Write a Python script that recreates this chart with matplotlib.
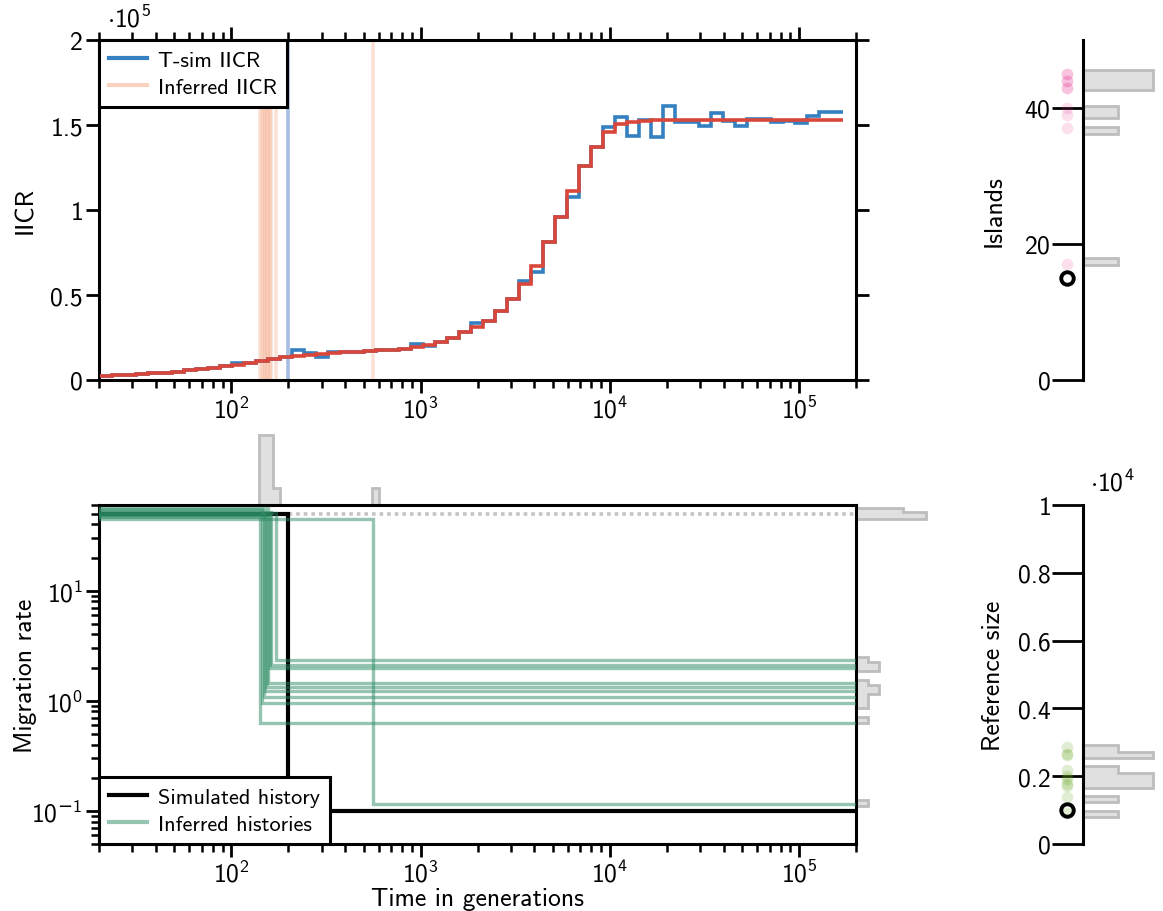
import numpy as np
import matplotlib
matplotlib.use("Agg")
import matplotlib.pyplot as plt
import matplotlib.transforms as mtransforms
from matplotlib.ticker import FuncFormatter, FixedLocator, NullFormatter
from matplotlib.lines import Line2D

plt.rcParams.update({
    "font.family": "cmss10",
    "mathtext.fontset": "custom",
    "mathtext.rm": "cmss10",
    "mathtext.it": "cmss10",
    "mathtext.bf": "cmss10",
    "mathtext.sf": "DejaVu Sans",
    "axes.unicode_minus": False,
    "axes.formatter.use_mathtext": True,
})

# ---------------- data ----------------
time_edges = [20.24, 23.42, 27.09, 31.34, 36.26, 41.95, 48.53, 56.15, 64.96, 75.15,
              86.95, 100.6, 116.4, 134.6, 155.7, 180.2, 208.4, 241.2, 279.0, 322.8,
              373.4, 432.0, 499.8, 578.3, 669.0, 774.0, 895.4, 1036, 1199, 1387,
              1604, 1856, 2147, 2484, 2874, 3325, 3846, 4450, 5148, 5956,
              6891, 7972, 9222, 10670, 12344, 14281, 16520, 19113, 22112, 25582,
              29596, 34240, 39611, 45826, 53016, 61334, 70958, 82091, 94972, 109874,
              127113, 147058, 170132]

iicr_tsim = [2500, 2800, 3100, 3500, 3900, 4400, 5000, 5700, 6400, 7200,
             8100, 10000, 10200, 11300, 12400, 13300, 17800, 15900, 13300, 16500,
             16500, 16700, 17100, 17500, 17900, 18300,
             21200, 20200, 22500, 24700, 28000, 33500, 34900, 40500, 47600, 58400,
             63300, 81000, 95700, 107500, 126100, 136900, 148600, 154500, 143700, 153100,
             143000, 161300, 151600, 151600, 149200, 157000, 152500, 149200, 153500, 153500,
             151900, 152500, 151200, 155100, 157800, 157800]

iicr_inferred = [2500, 2800, 3100, 3500, 3900, 4400, 5000, 5700, 6400, 7200,
                 8100, 9100, 10200, 11300, 12400, 13300, 14100, 14700, 15200, 15700,
                 16200, 16700, 17100, 17500, 17900, 18300,
                 19500, 20800, 22500, 24700, 28000, 31000, 34900, 40500, 47600, 56500,
                 67200, 81000, 95700, 111400, 126100, 136900, 145700, 150300, 151600, 152600,
                 152800, 152800, 152800, 152800, 152800, 152800, 152800, 152800, 152800, 152800,
                 152800, 152800, 152800, 152800, 152800, 152800]

t_min, t_max = 20, 2e5
sim_change_time = 200
sim_mig_rates = [50, 0.1]
mig_upper_bound = 50

inferred_change_times = [142, 145, 148, 151, 154, 157, 160, 163, 172, 560]
inferred_mig_early = [48, 55, 50, 53, 47, 56, 49, 52, 51, 45]
inferred_mig_late = [0.63, 0.96, 1.09, 1.23, 1.34, 1.46, 1.99, 2.12, 2.35, 0.115]

sim_islands = 15
inferred_islands = [45, 45, 44, 44, 43, 43, 40, 39, 37, 17]
sim_ref_size = 1000
inferred_ref_size = [2870, 2650, 2620, 2170, 2000, 1930, 1780, 1700, 1380, 900]

time_hist_edges = [140.3, 152.4, 165.5, 181.8, 552.8, 602.1]
mig_hist_log_edges = [-0.96, -0.90, -0.205, -0.15, -0.065, -0.005, 0.059, 0.140, 0.19,
                      0.272, 0.351, 0.40, 1.65, 1.712, 1.755]
islands_hist_edges = [16.95, 17.9, 36.2, 37.2, 38.5, 39.4, 40.3, 42.7, 43.67, 44.63, 45.6]
ref_hist_edges = [797, 972, 1236, 1412, 1655, 1873, 2091, 2290, 2534, 2724, 2935]

# ---------------- styles ----------------
BLUE = "#3480c0"
RED = "#d9473a"
SALMON = "#f4a582"
GREEN = "#2d8c64"
PINK = "#e7298a"
LGREEN = "#66a61e"
HFACE = "#e0e0e0"
HEDGE = "#bdbdbd"
FS = 18.5
LFS = 16
SPW = 2.2

W, H = 1163, 912
fig = plt.figure(figsize=(W / 100, H / 100), dpi=100)


def box(x0, y0, x1, y1):
    return [x0 / W, 1 - y1 / H, (x1 - x0) / W, (y1 - y0) / H]


ax_top = fig.add_axes(box(99, 41, 856, 381))
ax_bot = fig.add_axes(box(99, 506, 856, 845))
ax_th = fig.add_axes(box(99, 426, 856, 506), sharex=ax_bot)
ax_mh = fig.add_axes(box(856, 506, 936, 845), sharey=ax_bot)
ax_isl = fig.add_axes(box(1083, 41, 1163, 381))
ax_ref = fig.add_axes(box(1083, 506, 1163, 845))
ax_th.set_zorder(-1)
ax_mh.set_zorder(-1)
HIST_LEN = 80.0   # px extent of histogram axes
HIST_MAX = 70.0   # px length of tallest bar


def log_label(v, pos):
    e = int(round(np.log10(v)))
    s = (r"\mathsf{-}" + str(-e)) if e < 0 else str(e)
    return r"$\mathdefault{10^{%s}}$" % s


# ---------------- top panel: IICR ----------------
ax_top.set_xscale("log")
for t in inferred_change_times:
    ax_top.axvline(t, color=SALMON, alpha=0.33, lw=2.6, zorder=1)
ax_top.axvline(sim_change_time, color="#5b85c8", alpha=0.55, lw=2.6, zorder=1)
ax_top.stairs(iicr_tsim, time_edges, baseline=None, color=BLUE, lw=2.6, zorder=3)
ax_top.stairs(iicr_inferred, time_edges, baseline=None, color=RED, lw=2.6, zorder=4)
ax_top.set_xlim(t_min, t_max)
ax_top.set_ylim(0, 2e5)
ax_top.yaxis.set_major_locator(FixedLocator([0, 0.5e5, 1e5, 1.5e5, 2e5]))
ax_top.yaxis.set_major_formatter(FuncFormatter(lambda v, p: f"{v / 1e5:g}"))
ax_top.xaxis.set_major_formatter(FuncFormatter(log_label))
ax_top.xaxis.set_minor_formatter(NullFormatter())
ax_top.tick_params(which="both", direction="out", top=True, right=True,
                   labeltop=False, labelright=False, width=2, labelsize=FS, pad=2)
ax_top.tick_params(which="major", length=9.5)
ax_top.tick_params(which="minor", length=5.5, width=1.8)
ax_top.text(0.011, 1.026, r"$\cdot 10^{5}$", transform=ax_top.transAxes,
            fontsize=FS, ha="left", va="bottom")
ax_top.set_ylabel("IICR", fontsize=FS)
ax_top.yaxis.set_label_coords(-0.082, 0.5)
leg1 = ax_top.legend([Line2D([], [], color=BLUE, lw=3),
                      Line2D([], [], color=SALMON, alpha=0.5, lw=3)],
                     ["T-sim IICR", "Inferred IICR"], loc="upper left",
                     borderaxespad=0, fancybox=False, framealpha=1, edgecolor="black",
                     fontsize=LFS, handlelength=1.7, handletextpad=0.5,
                     borderpad=0.45, labelspacing=0.35)
leg1.get_frame().set_linewidth(SPW)

# ---------------- bottom panel: migration histories ----------------
ax_bot.set_xscale("log")
ax_bot.set_yscale("log")
ax_bot.axhline(mig_upper_bound, color="#c4c4c4", lw=2.6, ls=(0, (1, 1.1)),
               dash_capstyle="butt", zorder=1)
ax_bot.step([t_min, sim_change_time, t_max],
            [sim_mig_rates[0], sim_mig_rates[1], sim_mig_rates[1]],
            where="post", color="black", lw=3, zorder=2, solid_joinstyle="miter")
for t, m0, m1 in zip(inferred_change_times, inferred_mig_early, inferred_mig_late):
    ax_bot.step([t_min, t, t_max], [m0, m1, m1], where="post", color=GREEN,
                alpha=0.5, lw=2.4, zorder=3, solid_joinstyle="miter")
ax_bot.set_xlim(t_min, t_max)
ax_bot.set_ylim(0.05, 60)
ax_bot.xaxis.set_major_formatter(FuncFormatter(log_label))
ax_bot.yaxis.set_major_formatter(FuncFormatter(log_label))
ax_bot.xaxis.set_minor_formatter(NullFormatter())
ax_bot.yaxis.set_minor_formatter(NullFormatter())
ax_bot.tick_params(which="both", direction="out", width=2, labelsize=FS, pad=2)
ax_bot.tick_params(which="major", length=9.5)
ax_bot.tick_params(which="minor", length=5.5, width=1.8)
ax_bot.set_xlabel("Time in generations", fontsize=FS, labelpad=0)
ax_bot.set_ylabel("Migration rate", fontsize=FS)
ax_bot.yaxis.set_label_coords(-0.082, 0.5)
leg2 = ax_bot.legend([Line2D([], [], color="black", lw=3),
                      Line2D([], [], color=GREEN, alpha=0.5, lw=3)],
                     ["Simulated history", "Inferred histories"], loc="lower left",
                     borderaxespad=0, fancybox=False, framealpha=1, edgecolor="black",
                     fontsize=LFS, handlelength=1.7, handletextpad=0.5,
                     borderpad=0.45, labelspacing=0.35)
leg2.get_frame().set_linewidth(SPW)

for ax in (ax_top, ax_bot):
    for sp in ax.spines.values():
        sp.set_linewidth(SPW)

# ---------------- histogram of change times ----------------
th_counts, _ = np.histogram(inferred_change_times, bins=time_hist_edges)
ax_th.stairs(th_counts, time_hist_edges, fill=True, facecolor=HFACE,
             edgecolor=HEDGE, lw=2, clip_on=False)
ax_th.set_ylim(0, th_counts.max() * HIST_LEN / HIST_MAX)
ax_th.axis("off")

# ---------------- histogram of migration rates ----------------
mig_edges = 10 ** np.array(mig_hist_log_edges)
mh_counts, _ = np.histogram(inferred_mig_early + inferred_mig_late, bins=mig_edges)
ax_mh.stairs(mh_counts, mig_edges, orientation="horizontal", fill=True,
             facecolor=HFACE, edgecolor=HEDGE, lw=2, clip_on=False)
ax_mh.set_xlim(0, mh_counts.max() * HIST_LEN / HIST_MAX)
ax_mh.axis("off")


# ---------------- side panels ----------------
def side_axis(ax, values, true_val, edges, color, alpha, ylim, ticks, label):
    counts, _ = np.histogram(values, bins=edges)
    ax.stairs(counts, edges, orientation="horizontal", fill=True,
              facecolor=HFACE, edgecolor=HEDGE, lw=2, clip_on=False)
    ax.set_xlim(0, counts.max() * HIST_LEN / HIST_MAX)
    ax.set_ylim(*ylim)
    for s in ("top", "right", "bottom"):
        ax.spines[s].set_visible(False)
    ax.spines["left"].set_linewidth(SPW)
    ax.set_xticks([])
    ax.set_yticks(ticks)
    ax.tick_params(axis="y", length=22, width=2, labelsize=FS, direction="out", pad=1)
    trans = mtransforms.offset_copy(ax.get_yaxis_transform(), fig=fig,
                                    x=-16, y=0, units="dots")
    ax.plot(np.zeros(len(values)), values, "o", ms=8.4, color=color, alpha=alpha,
            mec="none", transform=trans, clip_on=False, zorder=3)
    ax.plot([0], [true_val], "o", ms=9, mfc="none", mec="black", mew=2.8,
            transform=trans, clip_on=False, zorder=4)
    ax.set_ylabel(label, fontsize=FS)
    ax.yaxis.set_label_coords(-0.97, 0.5)


side_axis(ax_isl, inferred_islands, sim_islands, islands_hist_edges, PINK, 0.15,
          (0, 50), [0, 20, 40], "Islands")
side_axis(ax_ref, inferred_ref_size, sim_ref_size, ref_hist_edges, LGREEN, 0.2,
          (0, 10000), [0, 2000, 4000, 6000, 8000, 10000], "Reference size")
ax_ref.yaxis.set_major_formatter(FuncFormatter(lambda v, p: f"{v / 1e4:g}"))
ax_ref.text(0.09, 1.027, r"$\cdot 10^{4}$", transform=ax_ref.transAxes,
            fontsize=FS, ha="left", va="bottom")

fig.savefig("out.png", dpi=100)
